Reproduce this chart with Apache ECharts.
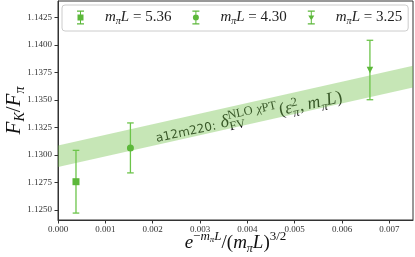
<!DOCTYPE html>
<html><head><meta charset="utf-8">
<script src="https://cdn.jsdelivr.net/npm/echarts@6/dist/echarts.min.js"></script>
<style>html,body{margin:0;padding:0;background:#fff}#c{width:415px;height:257px}</style>
</head><body><div id="c"></div>
<script>
// ---- data ----
const seriesLabels = ['5.36', '4.30', '3.25'];
const xVals = [0.00038, 0.00153, 0.00659];
const yVals = [1.12758, 1.13065, 1.13773];
const yErrs = [0.00285, 0.00227, 0.00270];
const bandX = [0, 0.0075];
const bandLower = [1.12891, 1.13615];
const bandUpper = [1.13088, 1.13811];
const xTicks = [0, 0.001, 0.002, 0.003, 0.004, 0.005, 0.006, 0.007];
const yTicks = [1.1250, 1.1275, 1.1300, 1.1325, 1.1350, 1.1375, 1.1400, 1.1425];

// ---- styles ----
const markGreen = '#5cb83a';
const barGreen = '#6cc44a';
const bandFill = 'rgba(112,192,72,0.40)';
const SERIF = '"Liberation Serif", "DejaVu Serif", serif';
const symbols = ['rect', 'circle', 'triangle'];
const rotations = [0, 0, 180];
const icons = [
  'path://M0 0H7V1.2H0Z M0 12.8H7V14H0Z M3 0H4V14H3Z M0.5 4H6.5V10H0.5Z',
  'path://M0 0H7V1.2H0Z M0 12.8H7V14H0Z M3 0H4V14H3Z M3.5 4A3 3 0 1 1 3.5 10A3 3 0 1 1 3.5 4Z',
  'path://M0 0H7V1.2H0Z M0 12.8H7V14H0Z M3 0H4V14H3Z M0.5 5H6.5L3.5 10Z'
];

const chart = echarts.init(document.getElementById('c'), null, {renderer: 'canvas'});

const bandData = bandX.map((x, i) => [x, bandLower[i], bandUpper[i]]);
const errData = xVals.map((x, i) => [x, yVals[i] - yErrs[i], yVals[i] + yErrs[i]]);

const scatterSeries = seriesLabels.map((lab, i) => ({
  type: 'scatter', name: lab,
  data: [[xVals[i], yVals[i]]],
  symbol: symbols[i], symbolRotate: rotations[i],
  symbolSize: i === 2 ? 6.5 : 7,
  itemStyle: {color: markGreen, opacity: 1},
  z: 5
}));

const option = {
  animation: false,
  grid: {left: 58, right: 2, top: 1, bottom: 37, show: true, borderColor: '#333', borderWidth: 1,
         containLabel: false, outerBoundsMode: 'none'},
  legend: {
    data: seriesLabels.map((l, i) => ({name: l, icon: icons[i]})),
    left: 62, top: 5,
    padding: [5, 6, 5, 15],
    itemWidth: 7, itemHeight: 14, itemGap: 21,
    borderColor: '#cccccc', borderWidth: 1, borderRadius: 3,
    backgroundColor: '#fff',
    formatter: n => '{i|m}{s|π}{i|L}{n| = ' + n + '}',
    textStyle: {
      padding: [0, 0, 0, 16],
      rich: {
        i: {fontFamily: SERIF, fontStyle: 'italic', fontSize: 15, color: '#222'},
        s: {fontFamily: SERIF, fontStyle: 'italic', fontSize: 10, color: '#222', padding: [7, 0, 0, 0]},
        n: {fontFamily: SERIF, fontSize: 15, color: '#222'}
      }
    }
  },
  xAxis: {
    type: 'value', min: 0, max: 0.0075,
    splitLine: {show: false},
    axisLine: {show: true, onZero: false, lineStyle: {color: '#333', width: 1}},
    axisTick: {show: true, length: 3.5, customValues: xTicks, lineStyle: {color: '#333'}},
    axisLabel: {customValues: xTicks, formatter: v => v.toFixed(3), fontFamily: SERIF, fontSize: 9, color: '#333', margin: 5},
    name: '{i|e}{sup|−}{supi|m}{supsub|π}{supi|L}{n|/(}{i|m}{s|π}{i|L}{n|)}{sup|3/2}',
    nameLocation: 'middle', nameGap: 10, nameMoveOverlap: false,
    nameTextStyle: {
      rich: {
        i: {fontFamily: SERIF, fontStyle: 'italic', fontSize: 19, color: '#111'},
        n: {fontFamily: SERIF, fontSize: 19, color: '#111'},
        s: {fontFamily: SERIF, fontStyle: 'italic', fontSize: 12, color: '#111', padding: [11, 0, 0, 0]},
        sup: {fontFamily: SERIF, fontSize: 13, color: '#111', padding: [0, 0, 13, 0]},
        supi: {fontFamily: SERIF, fontStyle: 'italic', fontSize: 13, color: '#111', padding: [0, 0, 13, 0]},
        supsub: {fontFamily: SERIF, fontStyle: 'italic', fontSize: 9, color: '#111', padding: [0, 0, 6, 0]}
      }
    }
  },
  yAxis: {
    type: 'value', min: 1.1241, max: 1.1440,
    splitLine: {show: false},
    axisLine: {show: true, onZero: false, lineStyle: {color: '#333', width: 1}},
    axisTick: {show: true, length: 3.5, customValues: yTicks, lineStyle: {color: '#333'}},
    axisLabel: {customValues: yTicks, formatter: v => v.toFixed(4), fontFamily: SERIF, fontSize: 9, color: '#333', margin: 6},
    name: '{i|F}{s|K}{n|/}{i|F}{s|π}',
    nameLocation: 'middle', nameGap: 31, nameMoveOverlap: false,
    nameTextStyle: {
      rich: {
        i: {fontFamily: SERIF, fontStyle: 'italic', fontSize: 21, color: '#111'},
        n: {fontFamily: SERIF, fontSize: 21, color: '#111'},
        s: {fontFamily: SERIF, fontStyle: 'italic', fontSize: 14, color: '#111', padding: [12, 0, 0, 0]}
      }
    }
  },
  series: [
    {
      type: 'custom', name: 'band', silent: true, z: 1,
      data: bandData,
      encode: {x: 0, y: [1, 2]},
      renderItem: (params, api) => {
        if (params.dataIndex !== 0) return null;
        const up = bandData.map(d => api.coord([d[0], d[2]]));
        const lo = bandData.map(d => api.coord([d[0], d[1]])).reverse();
        return {type: 'polygon', shape: {points: up.concat(lo)}, style: {fill: bandFill}};
      }
    },
    {
      type: 'custom', name: 'err', silent: true, z: 4,
      data: errData,
      encode: {x: 0, y: [1, 2]},
      renderItem: (params, api) => {
        const x = api.value(0);
        const p1 = api.coord([x, api.value(1)]);
        const p2 = api.coord([x, api.value(2)]);
        const cw = 3.3;
        const st = {stroke: barGreen, lineWidth: 1.3};
        return {type: 'group', children: [
          {type: 'line', shape: {x1: p1[0], y1: p1[1], x2: p2[0], y2: p2[1]}, style: st},
          {type: 'line', shape: {x1: p1[0] - cw, y1: p1[1], x2: p1[0] + cw, y2: p1[1]}, style: st},
          {type: 'line', shape: {x1: p2[0] - cw, y1: p2[1], x2: p2[0] + cw, y2: p2[1]}, style: st}
        ]};
      }
    }
  ].concat(scatterSeries)
};
chart.setOption(option);

// ---- rotated annotation along the band ----
(function () {
  const ctx = document.createElement('canvas').getContext('2d');
  const W = (t, f) => { ctx.font = f; return ctx.measureText(t).width; };
  const F = (size, italic, fam) => (italic ? 'italic ' : '') + size + 'px ' + (fam || SERIF);
  const M = 18, S = 12.5;
  const kids = [];
  let x = 0;
  const put = (t, f, size, base, adv) => {
    kids.push({type: 'text', x: x, y: base - 0.33 * size,
      style: {text: t, font: f, fill: '#111', verticalAlign: 'middle', align: 'left'}});
    const w = W(t, f);
    if (adv) x += w;
    return w;
  };
  put('a12m220:', '12px "DejaVu Sans"', 12, 0, true);
  x += 5;
  put('δ', F(M, true), M, 0, true);
  const xs = x;
  let w1 = 0;
  w1 += put('NLO', F(S, false), S, -7.5, true);
  x += 4; w1 += 4;
  w1 += put('χ', F(S, true), S, -7.5, true);
  w1 += put('PT', F(S, false), S, -7.5, true);
  x = xs;
  const w2 = put('FV', F(S, false), S, 4, false);
  x = xs + Math.max(w1, w2) + 2;
  put('(', F(M, false), M, 0, true);
  put('ε', F(M, true), M, 0, true);
  const xe = x;
  const a = put('2', F(S, false), S, -6.5, false);
  const b = put('π', F(S, true), S, 4, false);
  x = xe + Math.max(a, b) + 1;
  put(',', F(M, false), M, 0, true);
  x += 4;
  put('m', F(M, true), M, 0, true);
  put('π', F(S, true), S, 4, true);
  put('L', F(M, true), M, 0, true);
  put(')', F(M, false), M, 0, true);
  const anchor = chart.convertToPixel({gridIndex: 0}, [0.00209, 1.13112]);
  chart.setOption({graphic: [{type: 'group', x: anchor[0], y: anchor[1], rotation: 0.21, z: 10, children: kids}]});
})();
</script>
</body></html>
